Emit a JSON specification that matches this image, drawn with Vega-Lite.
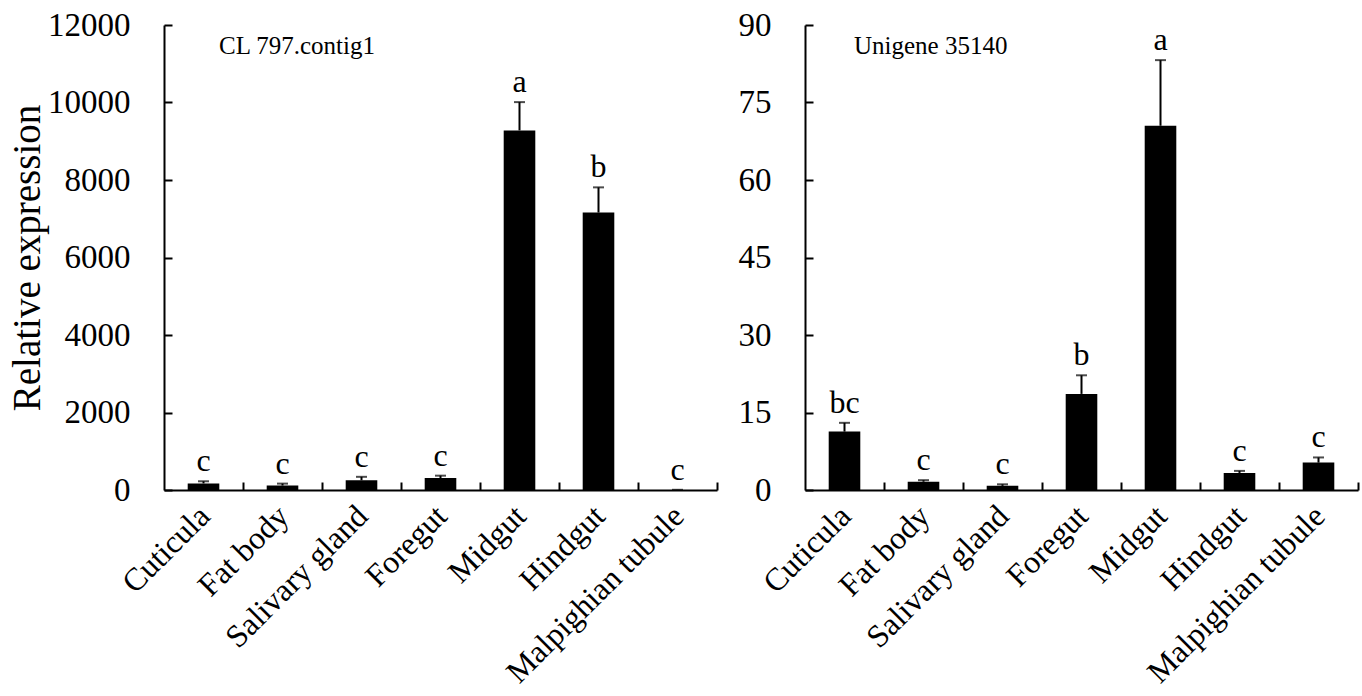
{
  "$schema": "https://vega.github.io/schema/vega-lite/v6.json",
  "background": "white",
  "padding": {"left": 8, "top": 9, "right": 5, "bottom": 5},
  "config": {
    "view": {"stroke": null},
    "font": "Liberation Serif",
    "axis": {"domainColor": "black", "domainWidth": 2, "tickColor": "black", "tickWidth": 2, "labelColor": "black", "labelFont": "Liberation Serif", "titleFont": "Liberation Serif", "grid": false, "titleColor": "black"},
    "concat": {"spacing": 20}
  },
  "datasets": {
    "left": [
      {"tissue": "Cuticula", "mean": 170, "upper": 225, "letter": "c"},
      {"tissue": "Fat body", "mean": 115, "upper": 165, "letter": "c"},
      {"tissue": "Salivary gland", "mean": 250, "upper": 340, "letter": "c"},
      {"tissue": "Foregut", "mean": 310, "upper": 370, "letter": "c"},
      {"tissue": "Midgut", "mean": 9280, "upper": 10010, "letter": "a"},
      {"tissue": "Hindgut", "mean": 7160, "upper": 7810, "letter": "b"},
      {"tissue": "Malpighian tubule", "mean": 3, "upper": 5, "letter": "c"}
    ],
    "right": [
      {"tissue": "Cuticula", "mean": 11.3, "upper": 13.0, "letter": "bc"},
      {"tissue": "Fat body", "mean": 1.6, "upper": 1.9, "letter": "c"},
      {"tissue": "Salivary gland", "mean": 0.8, "upper": 1.1, "letter": "c"},
      {"tissue": "Foregut", "mean": 18.6, "upper": 22.2, "letter": "b"},
      {"tissue": "Midgut", "mean": 70.5, "upper": 83.2, "letter": "a"},
      {"tissue": "Hindgut", "mean": 3.3, "upper": 3.7, "letter": "c"},
      {"tissue": "Malpighian tubule", "mean": 5.3, "upper": 6.3, "letter": "c"}
    ]
  },
  "hconcat": [
    {
      "width": 553,
      "height": 465,
      "data": {"name": "left"},
      "title": {"text": "CL 797.contig1", "anchor": "start", "frame": "group", "fontSize": 25, "font": "Liberation Serif", "fontWeight": "normal", "color": "black", "dx": 55, "offset": -50},
      "encoding": {
        "x": {"field": "tissue", "type": "nominal", "sort": null,
          "scale": {"paddingInner": 0.6, "paddingOuter": 0.3},
          "axis": {"title": null, "labelAngle": -45, "labelFontSize": 32, "labelLimit": 0, "tickSize": -8, "tickOffset": 39.5, "labelOffset": -49.5, "labelPadding": 18}}
      },
      "layer": [
        {"mark": {"type": "bar", "color": "black"},
         "encoding": {"y": {"field": "mean", "type": "quantitative", "scale": {"domain": [0, 12000], "nice": false},
           "axis": {"values": [0, 2000, 4000, 6000, 8000, 10000, 12000], "format": "d", "tickSize": -8, "labelPadding": 42, "labelFontSize": 33, "title": "Relative  expression", "titleFontSize": 39, "titleFontWeight": "normal", "titlePadding": 0}}}},
        {"mark": {"type": "rule", "strokeWidth": 2, "color": "black"},
         "encoding": {"y": {"field": "mean", "type": "quantitative"}, "y2": {"field": "upper"}}},
        {"mark": {"type": "tick", "color": "black", "thickness": 2, "size": 11},
         "encoding": {"y": {"field": "upper", "type": "quantitative"}}},
        {"mark": {"type": "text", "fontSize": 32, "dy": -10, "baseline": "alphabetic", "font": "Liberation Serif", "color": "black"},
         "encoding": {"y": {"field": "upper", "type": "quantitative"}, "text": {"field": "letter"}}}
      ]
    },
    {
      "width": 553,
      "height": 465,
      "data": {"name": "right"},
      "title": {"text": "Unigene 35140", "anchor": "start", "frame": "group", "fontSize": 25, "font": "Liberation Serif", "fontWeight": "normal", "color": "black", "dx": 49, "offset": -50},
      "encoding": {
        "x": {"field": "tissue", "type": "nominal", "sort": null,
          "scale": {"paddingInner": 0.6, "paddingOuter": 0.3},
          "axis": {"title": null, "labelAngle": -45, "labelFontSize": 32, "labelLimit": 0, "tickSize": -8, "tickOffset": 39.5, "labelOffset": -49.5, "labelPadding": 18}}
      },
      "layer": [
        {"mark": {"type": "bar", "color": "black"},
         "encoding": {"y": {"field": "mean", "type": "quantitative", "scale": {"domain": [0, 90], "nice": false},
           "axis": {"values": [0, 15, 30, 45, 60, 75, 90], "format": "d", "tickSize": -8, "labelPadding": 42, "labelFontSize": 33, "title": null}}}},
        {"mark": {"type": "rule", "strokeWidth": 2, "color": "black"},
         "encoding": {"y": {"field": "mean", "type": "quantitative"}, "y2": {"field": "upper"}}},
        {"mark": {"type": "tick", "color": "black", "thickness": 2, "size": 11},
         "encoding": {"y": {"field": "upper", "type": "quantitative"}}},
        {"mark": {"type": "text", "fontSize": 32, "dy": -10, "baseline": "alphabetic", "font": "Liberation Serif", "color": "black"},
         "encoding": {"y": {"field": "upper", "type": "quantitative"}, "text": {"field": "letter"}}}
      ]
    }
  ]
}
